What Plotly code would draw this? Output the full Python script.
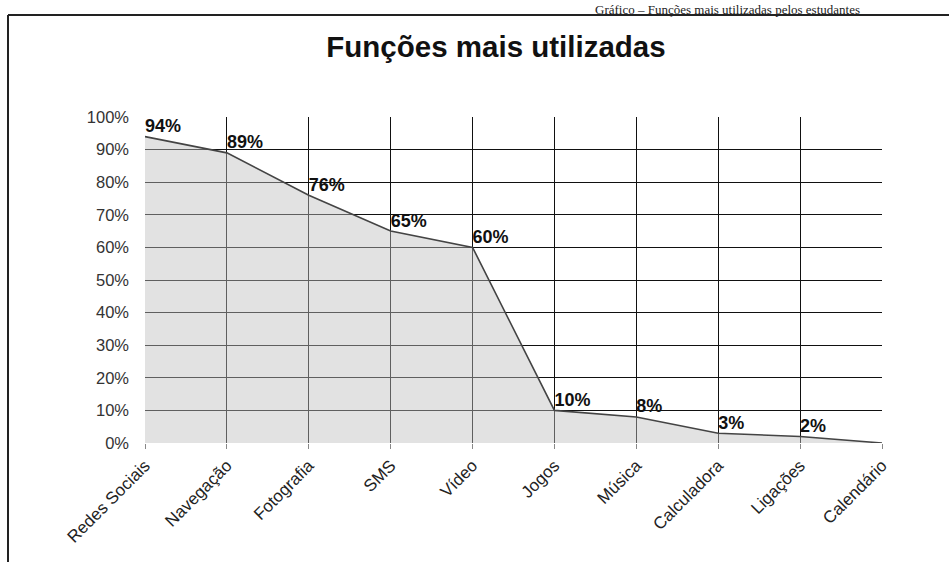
import plotly.graph_objects as go

categories = ["Redes Sociais", "Navegação", "Fotografia", "SMS", "Vídeo",
              "Jogos", "Música", "Calculadora", "Ligações", "Calendário"]
values = [94, 89, 76, 65, 60, 10, 8, 3, 2, 0]
labels = ["94%", "89%", "76%", "65%", "60%", "10%", "8%", "3%", "2%", ""]
y_ticks = [0, 10, 20, 30, 40, 50, 60, 70, 80, 90, 100]
y_ticktext = [f"{v}%" for v in y_ticks]

W, H = 949, 562
L, R, T, B = 145, 67, 117, 119
pw, ph = W - L - R, H - T - B

def px(x):
    return (x - L) / pw

def py(y):
    return (H - B - y) / ph

fig = go.Figure()
fig.add_trace(go.Scatter(
    x=categories, y=values, mode="lines+text",
    fill="tozeroy", fillcolor="rgba(190,190,190,0.45)",
    line=dict(color="#444444", width=1.6),
    text=[f"<b>{t}</b>" if t else "" for t in labels], textposition="top right",
    textfont=dict(family="Liberation Sans, Arial", size=18, color="#111111"),
    cliponaxis=False, showlegend=False,
))

fig.update_layout(
    width=W, height=H,
    margin=dict(l=L, r=R, t=T, b=B),
    paper_bgcolor="white", plot_bgcolor="white",
    font=dict(family="Liberation Sans, Arial", color="#222222"),
    title=dict(text="<b>Funções mais utilizadas</b>", x=496 / W, xanchor="center",
               y=1 - 47 / H, yanchor="middle",
               font=dict(family="Liberation Sans, Arial", size=29.5, color="#111111")),
    xaxis=dict(type="category", range=[0, len(categories) - 1],
               showgrid=True, gridcolor="#111111", gridwidth=1.2,
               tickangle=-45, tickfont=dict(size=17, color="#222222"),
               ticks="outside", ticklen=5, tickcolor="#888888",
               showline=False, zeroline=False),
    yaxis=dict(range=[0, 100], tickvals=y_ticks, ticktext=y_ticktext,
               showgrid=True, gridcolor="#111111", gridwidth=1.2,
               tickfont=dict(size=16.5, color="#333333"),
               ticklabelstandoff=15,
               showline=False, zeroline=False),
    shapes=[
        dict(type="line", xref="paper", yref="paper",
             x0=px(8), x1=px(949), y0=py(15), y1=py(15),
             line=dict(color="#222222", width=2)),
        dict(type="line", xref="paper", yref="paper",
             x0=px(8), x1=px(8), y0=py(15), y1=py(562),
             line=dict(color="#222222", width=2)),
    ],
    annotations=[
        dict(text="Gráfico – Funções mais utilizadas pelos estudantes",
             xref="paper", yref="paper", x=px(862), y=py(0),
             xanchor="right", yanchor="top", showarrow=False,
             font=dict(family="Liberation Serif, Times New Roman", size=13, color="#222222")),
    ],
)

fig.write_html("out.html", config={"displayModeBar": False})
with open("out.html", encoding="utf-8") as f:
    html = f.read()
html = html.replace("<body>", '<body style="margin:0;padding:0;overflow:hidden">', 1)
with open("out.html", "w", encoding="utf-8") as f:
    f.write(html)
